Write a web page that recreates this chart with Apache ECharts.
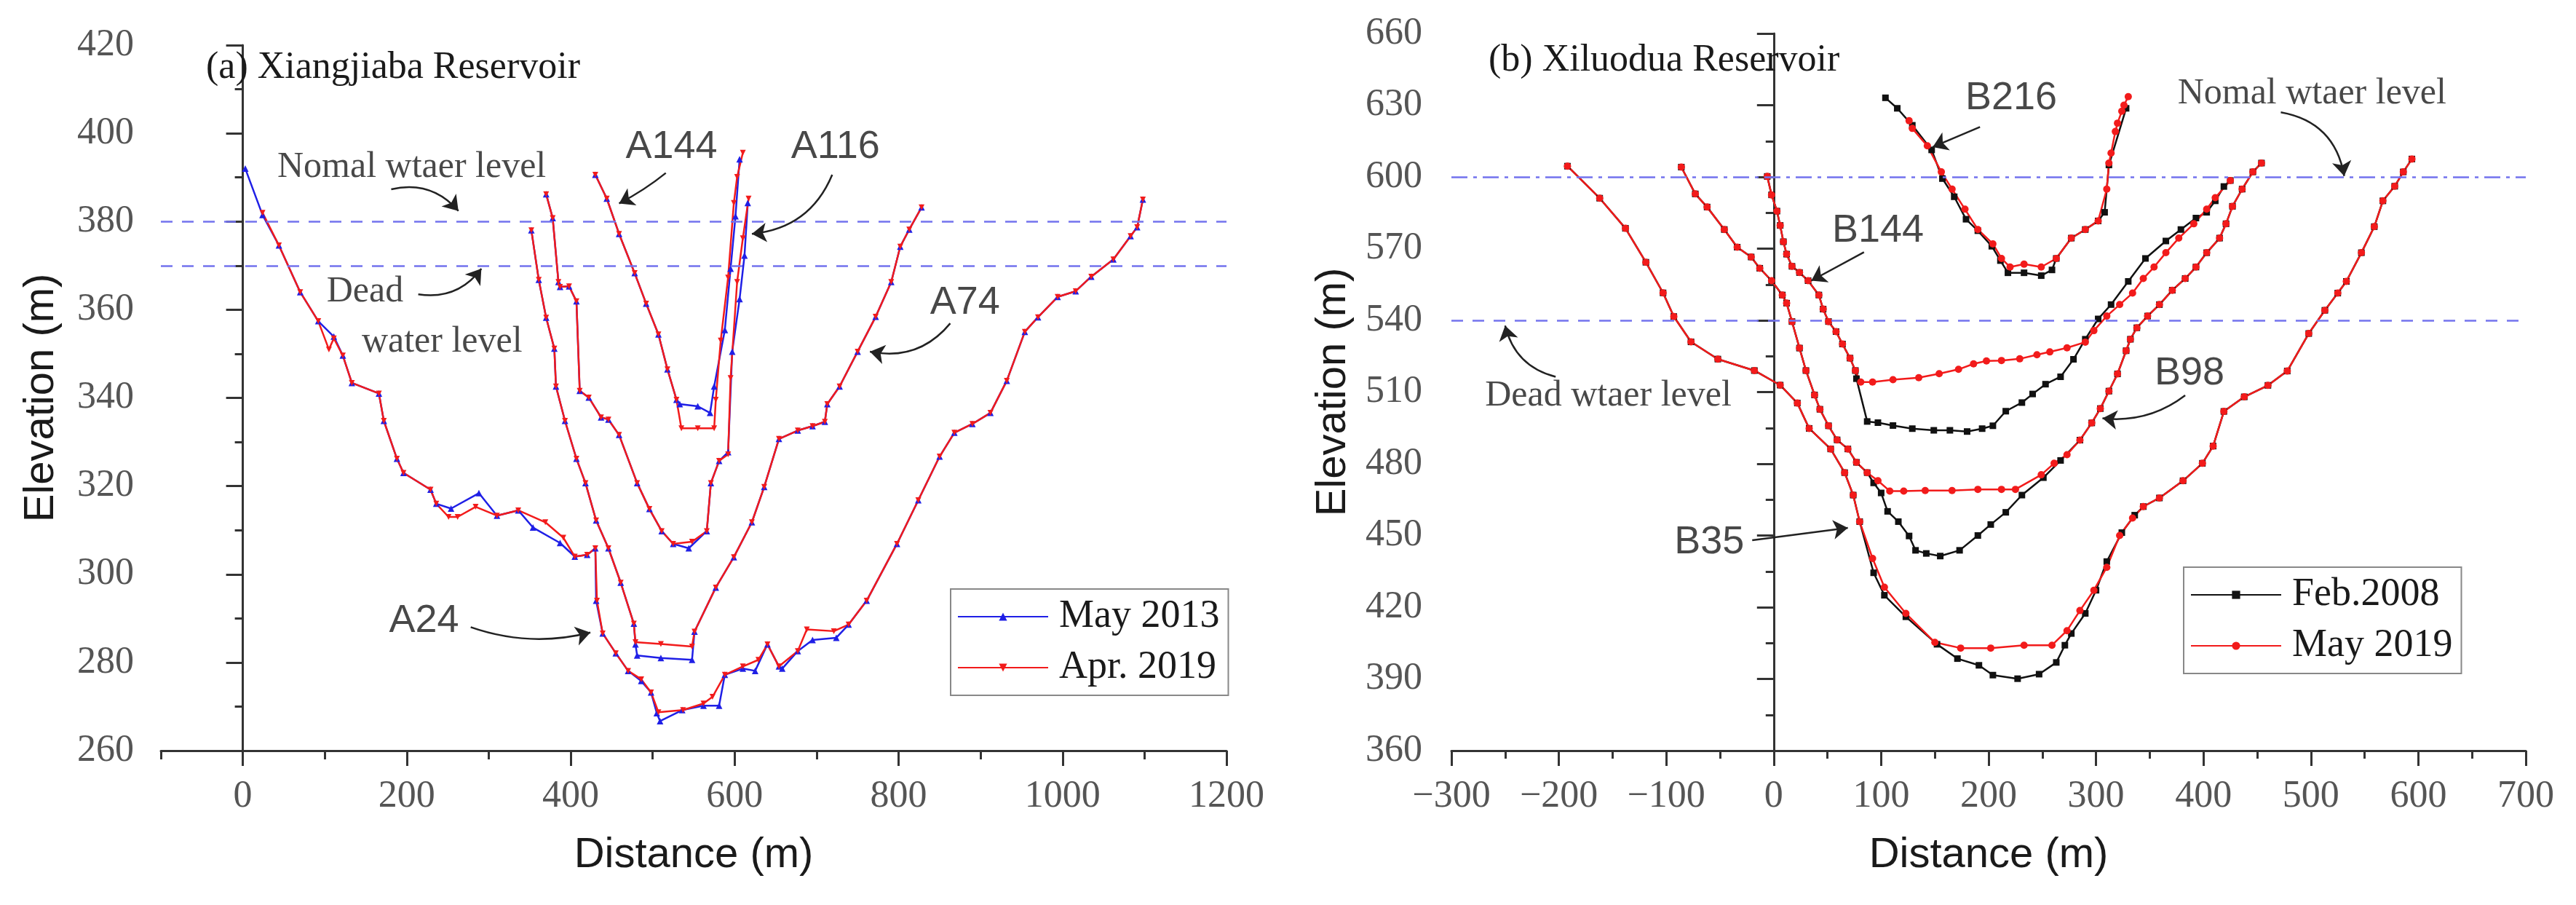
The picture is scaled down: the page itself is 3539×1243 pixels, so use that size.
<!DOCTYPE html>
<html lang="en" style="height: 100%">
<head>
<meta charset="utf-8">
<title>Reservoir cross-section profiles</title>
</head>
<body style="height: 100%; margin: 0; background: #fff">
<div id="container" style="height: 100%"></div>

<script type="text/javascript" src="https://cdn.jsdelivr.net/npm/echarts/dist/echarts.min.js"></script>

<script type="text/javascript">

// ---------- (a) Xiangjiaba Reservoir : [distance (m), elevation (m)] ----------
var a24May2013 = [
    [3, 392], [24, 381.5], [44, 374.6], [70, 364], [92, 357.4], [111, 353.9], [122, 349.6],
    [133, 343.4], [166, 341], [172, 334.8], [188, 326.2], [196, 323], [229, 319.2], [236, 316],
    [254, 314.9], [288, 318.4], [310, 313.3], [336, 314.5], [354, 310.6], [387, 307.1],
    [405, 304], [420, 304.4], [430, 305.9], [431, 294], [439, 286.6], [455, 282.1], [470, 278.1],
    [486, 275.8], [498, 273.2], [505, 268.5], [509, 266.7], [536, 269.2], [562, 270.2],
    [581, 270.2], [588, 277.2], [610, 278.6], [625, 278.1], [640, 284.1], [654, 279.1],
    [658, 278.6], [677, 282.6], [695, 285.1], [724, 285.6], [739, 288.6], [761, 294],
    [798, 306.9], [824, 316.8], [850, 326.7], [868, 332.1], [890, 334.1], [912, 336.6],
    [932, 343.9], [954, 355], [970, 358.3], [994, 362.9], [1016, 364.2], [1035, 367.5],
    [1062, 371.4], [1083, 376.7], [1091, 378.7], [1098, 385]
];
var a24Apr2019 = [
    [24, 382], [44, 374.6], [70, 364], [92, 357.4], [105, 351], [111, 353.5], [122, 349.6],
    [133, 343.4], [166, 341], [172, 334.8], [188, 326.2], [196, 323], [229, 319.2], [236, 316],
    [251, 313], [262, 313], [284, 315.3], [310, 313.3], [336, 314.5], [369, 311.8],
    [391, 308.3], [405, 304], [420, 304.4], [430, 305.9], [432, 294], [439, 286.6],
    [455, 282.1], [470, 278.1], [486, 276.2], [498, 273.2], [507, 268.7], [537, 269.2],
    [562, 270.7], [573, 272.2], [588, 277.2], [610, 279.1], [629, 280.6], [640, 284.1],
    [654, 279.1], [677, 282.6], [688, 287.5], [721, 287.1], [739, 288.6], [761, 294],
    [798, 306.9], [824, 316.8], [850, 326.7], [868, 332.1], [890, 334.1], [912, 336.6],
    [932, 343.9], [954, 355], [970, 358.3], [994, 362.9], [1016, 364.2], [1035, 367.5],
    [1062, 371.4], [1083, 376.7], [1091, 378.7], [1098, 385]
];
var a74May2013 = [
    [352, 378], [361, 366.8], [370, 358.2], [380, 351.2], [382, 342.6], [393, 334.8],
    [407, 326.2], [418, 320.7], [431, 312.2], [446, 305.9], [461, 298.1], [477, 288.8],
    [479, 284.1], [481, 281.6], [510, 281], [548, 280.6], [551, 287], [577, 297], [599, 303.9],
    [621, 311.8], [636, 319.8], [654, 330.7], [677, 332.6], [695, 333.6], [710, 334.6],
    [713, 338.6], [728, 342.6], [750, 350.5], [772, 358.4], [791, 366.3], [802, 374.3],
    [813, 378.2], [828, 383.2]
];
var a74Apr2019 = [
    [352, 378], [361, 366.8], [370, 358.2], [380, 351.2], [382, 342.6], [393, 334.8],
    [407, 326.2], [418, 320.7], [431, 312.2], [446, 305.9], [461, 298.1], [477, 288.8],
    [479, 284.6], [510, 284.2], [548, 283.6], [551, 287], [577, 297], [599, 303.9],
    [621, 311.8], [636, 319.8], [654, 330.7], [677, 332.6], [695, 333.6], [710, 334.6],
    [713, 338.6], [728, 342.6], [750, 350.5], [772, 358.4], [791, 366.3], [802, 374.3],
    [813, 378.2], [828, 383.2]
];
var a116May2013 = [
    [370, 386.2], [378, 380.8], [385, 366.3], [387, 365.2], [398, 365.3], [407, 361.9],
    [411, 341.6], [422, 340.1], [437, 335.6], [446, 335.1], [459, 331.6], [481, 320.7],
    [496, 314.8], [511, 309.8], [525, 306.9], [544, 305.9], [566, 309.8], [571, 320.7],
    [581, 325.7], [592, 327.7], [597, 350.5], [606, 362.4], [612, 372.3], [616, 384.2]
];
var a116Apr2019 = [
    [370, 386.2], [378, 380.8], [385, 366.3], [387, 365.2], [398, 365.3], [407, 361.9],
    [411, 341.6], [422, 340.1], [437, 335.6], [446, 335.1], [459, 331.6], [481, 320.7],
    [496, 314.8], [511, 309.8], [525, 306.9], [548, 307.4], [566, 309.8], [571, 320.7],
    [581, 325.7], [592, 327.2], [595, 344.5], [603, 366.3], [610, 376.2], [617, 385.2]
];
var a144May2013 = [
    [430, 390.6], [444, 385.2], [459, 377.2], [478, 368.3], [492, 361.4], [507, 354.4],
    [518, 346.5], [529, 339.6], [533, 338.6], [555, 338.1], [570, 336.6], [575, 342.6],
    [588, 355.4], [595, 369.3], [601, 381.2], [606, 394.1]
];
var a144Apr2019 = [
    [430, 390.6], [444, 385.2], [459, 377.2], [478, 368.3], [492, 361.4], [507, 354.4],
    [518, 346.5], [529, 339.6], [535, 333.1], [555, 333.1], [575, 333.1], [577, 339.6],
    [583, 353], [592, 367.3], [599, 384.2], [603, 390.1], [610, 395.6]
];

// ---------- (b) Xiluodua Reservoir : [distance (m), elevation (m)] ----------
var b35Feb2008 = [
    [-192, 604.5], [-162, 591.1], [-138, 578.5], [-119, 564.3], [-103, 551.5], [-93, 541.6],
    [-77, 531], [-52, 523.8], [-18, 519], [6, 512.9], [22, 505.4], [33, 494.8], [53, 486.2],
    [66, 476.3], [74, 466.9], [80, 455.8], [93, 434.4], [103, 425], [123, 416], [152, 404.5],
    [171, 398.5], [191, 395.7], [204, 391.6], [227, 390.1], [247, 392], [263, 396.9],
    [271, 404.1], [277, 409], [290, 417.4], [300, 427.1], [310, 439.1], [324, 451.2],
    [336, 458.5], [344, 462.1], [359, 465.7], [381, 472.9], [399, 480.2], [409, 487.4],
    [419, 501.9], [438, 508], [460, 512.8], [478, 518.8], [498, 534.5], [513, 544.2],
    [525, 551.4], [533, 556.3], [547, 568.3], [559, 579.2], [567, 590], [578, 596.1],
    [586, 602.1], [594, 607.5]
];
var b35May2019 = [
    [-192, 604.5], [-162, 591.1], [-138, 578.5], [-119, 564.3], [-103, 551.5], [-93, 541.6],
    [-77, 531], [-52, 523.8], [-18, 519], [6, 512.9], [22, 505.4], [33, 494.8], [53, 486.2],
    [66, 476.3], [74, 466.9], [80, 455.8], [92, 440.4], [103, 428.4], [123, 417.4],
    [150, 405.3], [174, 402.9], [202, 402.9], [233, 404.1], [259, 404.1], [273, 410.2],
    [285, 418.6], [298, 427.1], [310, 436.7], [322, 450], [334, 457.3], [344, 462.1],
    [359, 465.7], [381, 472.9], [399, 480.2], [409, 487.4], [419, 501.9], [438, 508],
    [460, 512.8], [478, 518.8], [498, 534.5], [513, 544.2], [525, 551.4], [533, 556.3],
    [547, 568.3], [559, 579.2], [567, 590], [578, 596.1], [586, 602.1], [594, 607.5]
];
var b98Feb2008 = [
    [-86, 604.1], [-73, 592.9], [-62, 587.4], [-46, 578], [-34, 570.6], [-21, 566.5],
    [-13, 561.8], [-2, 556.6], [8, 550.6], [12, 547.2], [17, 539.5], [24, 528.4], [30, 519],
    [38, 508.8], [43, 502.8], [51, 495.9], [59, 490], [69, 486.2], [77, 480.6], [87, 476.3],
    [93, 472], [100, 467.8], [106, 460.1], [116, 455.8], [126, 449.8], [132, 443.8],
    [142, 442.5], [155, 441.4], [173, 443.8], [190, 450], [202, 454.6], [216, 459.7],
    [231, 466.9], [251, 474.2], [267, 481.4], [285, 489.9], [296, 497.1], [304, 503.1],
    [312, 510.4], [320, 517.6], [328, 527.3], [332, 532.1], [338, 536.9], [348, 541.8],
    [359, 546.6], [371, 552.6], [383, 557.5], [393, 562.3], [403, 568.3], [415, 574.4],
    [421, 580.4], [427, 587.7], [436, 594.9], [446, 602.1], [454, 605.8]
];
var b98May2019 = [
    [-86, 604.1], [-73, 592.9], [-62, 587.4], [-46, 578], [-34, 570.6], [-21, 566.5],
    [-13, 561.8], [-2, 556.6], [8, 550.6], [12, 547.2], [17, 539.5], [24, 528.4], [30, 519],
    [38, 508.8], [43, 502.8], [51, 495.9], [59, 490], [69, 486.2], [77, 480.6], [87, 476.3],
    [97, 472.9], [108, 468.6], [121, 468.6], [141, 468.8], [166, 468.8], [190, 469.3],
    [212, 469.3], [225, 469.3], [249, 475.4], [261, 480.2], [273, 483.8], [285, 489.9],
    [296, 497.1], [304, 503.1], [312, 510.4], [320, 517.6], [328, 527.3], [332, 532.1],
    [338, 536.9], [348, 541.8], [359, 546.6], [371, 552.6], [383, 557.5], [393, 562.3],
    [403, 568.3], [415, 574.4], [421, 580.4], [427, 587.7], [436, 594.9], [446, 602.1],
    [454, 605.8]
];
var b144Feb2008 = [
    [-6, 600.2], [-2, 592.5], [3, 585.7], [6, 579.7], [9, 572.9], [12, 567.7], [17, 562.6],
    [24, 560], [32, 556.6], [42, 550.6], [46, 544.7], [51, 539.5], [58, 535.3], [64, 530.1],
    [71, 524.2], [76, 519], [77, 515.6], [87, 497.7], [97, 497.2], [111, 496], [129, 494.7],
    [149, 494], [164, 494], [180, 493.5], [194, 494.7], [204, 495.9], [216, 502], [231, 505.6],
    [241, 509.2], [253, 513.3], [267, 516.4], [279, 523.7], [290, 532.1], [302, 540.6],
    [314, 546.6], [330, 556.3], [346, 565.9], [365, 573.2], [379, 578], [393, 582.8],
    [403, 585.2], [411, 590], [419, 596], [425, 598.5]
];
var b144May2019 = [
    [-6, 600.2], [-2, 592.5], [3, 585.7], [6, 579.7], [9, 572.9], [12, 567.7], [17, 562.6],
    [24, 560], [32, 556.6], [42, 550.6], [46, 544.7], [51, 539.5], [58, 535.3], [64, 530.1],
    [71, 524.2], [76, 519], [81, 514.2], [92, 514.2], [111, 515.2], [135, 516], [154, 517.7],
    [172, 519.5], [186, 521.8], [198, 523], [212, 523.2], [229, 523.9], [245, 525.6],
    [257, 526.8], [273, 528.5], [290, 530.9], [298, 535.7], [310, 541.8], [322, 546.6],
    [334, 551.4], [344, 557.5], [354, 562.3], [365, 568.3], [377, 574.4], [391, 580.4],
    [403, 586.5], [411, 591.3], [425, 598.5]
];
var b216Feb2008 = [
    [104, 633.1], [115, 628.7], [129, 621.6], [147, 611.3], [157, 599.3], [168, 591.7],
    [179, 582.3], [190, 577.5], [203, 571], [211, 565], [218, 559.9], [233, 559.9],
    [249, 558.7], [259, 561.1], [263, 565.9], [277, 574.4], [290, 578], [302, 581.6],
    [308, 585.2], [312, 605], [328, 628.7]
];
var b216May2019 = [
    [126, 623.5], [129, 620.3], [143, 613], [156, 602.1], [166, 594.9], [178, 586.5],
    [190, 578], [204, 572], [212, 565.9], [220, 562.3], [233, 563.5], [249, 562.3],
    [263, 565.9], [277, 574.4], [290, 578], [302, 581.6], [310, 594.9], [312, 605.8],
    [314, 610], [318, 619], [320, 622.5], [324, 627.5], [326, 630], [330, 633.6]
];

// ---------- axes, reference levels, annotations ----------
var aDistMajor = [0, 200, 400, 600, 800, 1000, 1200];
var aDistMinor = [-100, 100, 300, 500, 700, 900, 1100];
var aLevels = [380, 370];           // normal / dead water level
var bNormalLevel = 600;
var bDeadLevel = 540;

// [text, distance, elevation]
var aSerifNotes = [['Nomal wtaer level', 206, 392.2], ['Dead', 149, 364.1], ['water level', 243, 352.7]];
var aSansNotes = [['A24', 221, 289.3], ['A144', 523, 396.8], ['A116', 723, 396.8], ['A74', 881, 361.6]];
var bSerifNotes = [['Nomal wtaer level', 501, 634.7], ['Dead wtaer level', -154, 508.3]];
var bSansNotes = [['B216', 221, 632.9], ['B144', 97, 577.5], ['B98', 387, 517.8], ['B35', -60, 447.1]];
// [x1, y1, x2, y2, curveness]
var aArrows = [
    [181, 387.3, 263, 382.4, 0.3], [214, 363.5, 291, 369.3, -0.3], [278, 288, 424, 286.8, -0.15],
    [516, 391, 459, 384.1, 0.05], [719, 390.6, 621, 377.2, 0.3], [863, 356.9, 765, 350.5, 0.3]
];
var bArrows = [
    [472, 627, 531, 600.4, 0.35], [-203, 516.4, -250, 537.8, 0.3], [84, 568.5, 35, 556.6, 0],
    [-20, 448, 69, 453.2, 0], [192, 620.9, 148, 612.5, 0], [383, 508.6, 306, 499, 0.2]
];

var serif = 'Liberation Serif';
var sans = 'Liberation Sans';
var axisColor = '#333';
var blue = '#1f1fe6';
var red = '#f21b1b';

var dom = document.getElementById('container');
var myChart = echarts.init(dom);

function plain(v) {
    return v < 0 ? '\u2212' + Math.abs(v) : String(v);
}

function valueAxis(grid, opts) {
    var ax = {
        gridIndex: grid,
        type: 'value',
        axisLine: {show: true, lineStyle: {color: axisColor, width: 3}},
        axisTick: {show: true, inside: false, length: 21, lineStyle: {color: axisColor, width: 3}},
        minorTick: {show: true, splitNumber: 2, length: 11, lineStyle: {color: axisColor, width: 3}},
        axisLabel: {margin: 37, fontFamily: serif, fontSize: 52, color: '#555', formatter: plain},
        splitLine: {show: false},
        nameLocation: 'middle',
        nameTextStyle: {fontFamily: sans, fontSize: 58, color: '#1a1a1a'}
    };
    return Object.assign(ax, opts);
}

function profile(name, data, xi, yi, color, symbol, size, rotate) {
    return {
        type: 'line',
        name: name,
        data: data,
        xAxisIndex: xi,
        yAxisIndex: yi,
        symbol: symbol,
        symbolSize: size,
        symbolRotate: rotate || 0,
        showSymbol: true,
        lineStyle: {color: color, width: 2.5},
        itemStyle: {color: color},
        z: 3
    };
}

function notes(list, xi, yi, font, markLine) {
    var s = {
        type: 'scatter',
        xAxisIndex: xi,
        yAxisIndex: yi,
        symbolSize: 1,
        silent: true,
        itemStyle: {color: 'rgba(0,0,0,0)'},
        label: {show: true, position: 'inside', formatter: '{b}', fontFamily: font,
            fontSize: font === serif ? 50 : 54, color: '#1a1a1a'},
        data: list.map(function (n) { return {name: n[0], value: [n[1], n[2]]}; }),
        z: 5
    };
    if (markLine) s.markLine = markLine;
    return s;
}

function arrows(list, xi, yi) {
    return {
        type: 'lines',
        coordinateSystem: 'cartesian2d',
        xAxisIndex: xi,
        yAxisIndex: yi,
        silent: true,
        symbol: ['none', 'arrow'],
        symbolSize: 20,
        lineStyle: {color: '#222', width: 2.5, opacity: 1},
        data: list.map(function (a) {
            return {coords: [[a[0], a[1]], [a[2], a[3]]], lineStyle: {curveness: a[4]}};
        }),
        z: 5
    };
}

var levelStyle = {color: '#7373ee', width: 2.5, type: [16, 13]};

var legendText = {fontFamily: serif, fontSize: 54, color: '#1a1a1a', lineHeight: 60, padding: [0, 0, 0, 10]};

var option = {
    animation: false,
    backgroundColor: '#fff',
    title: [
        {text: '(a) Xiangjiaba Reservoir', left: 278, top: 62,
            textStyle: {fontFamily: serif, fontSize: 52, fontWeight: 'normal', color: '#1a1a1a'}},
        {text: '(b) Xiluodua Reservoir', left: 2040, top: 52,
            textStyle: {fontFamily: serif, fontSize: 52, fontWeight: 'normal', color: '#1a1a1a'}}
    ],
    grid: [
        {left: 221, top: 62, width: 1464, height: 969},
        {left: 1994, top: 46, width: 1476, height: 985}
    ],
    legend: [
        {
            data: ['May 2013', 'Apr. 2019'], orient: 'vertical', left: 1306, top: 809,
            itemWidth: 124, itemHeight: 14, itemGap: 10, padding: [8, 12, 8, 9],
            borderColor: '#888', borderWidth: 2, textStyle: legendText
        },
        {
            data: ['Feb.2008', 'May 2019'], orient: 'vertical', left: 3000, top: 779,
            itemWidth: 124, itemHeight: 14, itemGap: 10, padding: [8, 12, 8, 9],
            borderColor: '#888', borderWidth: 2, textStyle: legendText
        }
    ],
    xAxis: [
        valueAxis(0, {
            min: -100, max: 1200,
            axisTick: {show: true, customValues: aDistMajor, length: 21, lineStyle: {color: axisColor, width: 3}},
            axisLabel: {customValues: aDistMajor, margin: 37, fontFamily: serif, fontSize: 52, color: '#555', formatter: plain},
            minorTick: {show: false},
            name: 'Distance (m)', nameGap: 115
        }),
        valueAxis(0, {
            min: -100, max: 1200, position: 'bottom',
            axisLine: {show: false},
            axisLabel: {show: false},
            axisTick: {show: true, customValues: aDistMinor, length: 12, lineStyle: {color: axisColor, width: 3}},
            minorTick: {show: false}
        }),
        valueAxis(1, {
            min: -300, max: 700, interval: 100,
            name: 'Distance (m)', nameGap: 115
        })
    ],
    yAxis: [
        valueAxis(0, {min: 260, max: 420, interval: 20, axisTick: {show: true, length: 23, lineStyle: {color: axisColor, width: 3}},
            name: 'Elevation (m)', nameGap: 135}),
        valueAxis(1, {min: 360, max: 660, interval: 30, axisTick: {show: true, length: 23, lineStyle: {color: axisColor, width: 3}},
            axisLabel: {margin: 40, fontFamily: serif, fontSize: 52, color: '#555', formatter: plain},
            name: 'Elevation (m)', nameGap: 133})
    ],
    series: [
        profile('May 2013', a24May2013, 0, 0, blue, 'triangle', 9),
        profile('May 2013', a74May2013, 0, 0, blue, 'triangle', 9),
        profile('May 2013', a116May2013, 0, 0, blue, 'triangle', 9),
        profile('May 2013', a144May2013, 0, 0, blue, 'triangle', 9),
        profile('Apr. 2019', a24Apr2019, 0, 0, red, 'triangle', 8, 180),
        profile('Apr. 2019', a74Apr2019, 0, 0, red, 'triangle', 8, 180),
        profile('Apr. 2019', a116Apr2019, 0, 0, red, 'triangle', 8, 180),
        profile('Apr. 2019', a144Apr2019, 0, 0, red, 'triangle', 8, 180),
        notes(aSerifNotes, 0, 0, serif, {
            silent: true, symbol: 'none', label: {show: false},
            lineStyle: levelStyle,
            data: aLevels.map(function (v) { return {yAxis: v}; })
        }),
        notes(aSansNotes, 0, 0, sans),
        arrows(aArrows, 0, 0),

        profile('Feb.2008', b35Feb2008, 2, 1, '#111', 'rect', 9),
        profile('Feb.2008', b98Feb2008, 2, 1, '#111', 'rect', 9),
        profile('Feb.2008', b144Feb2008, 2, 1, '#111', 'rect', 9),
        profile('Feb.2008', b216Feb2008, 2, 1, '#111', 'rect', 9),
        profile('May 2019', b35May2019, 2, 1, red, 'circle', 10),
        profile('May 2019', b98May2019, 2, 1, red, 'circle', 10),
        profile('May 2019', b144May2019, 2, 1, red, 'circle', 10),
        profile('May 2019', b216May2019, 2, 1, red, 'circle', 10),
        notes(bSerifNotes, 2, 1, serif, {
            silent: true, symbol: 'none', label: {show: false},
            data: [
                {yAxis: bNormalLevel, lineStyle: {color: '#7373ee', width: 2.5, type: [22, 8, 5, 8]}},
                {yAxis: bDeadLevel, lineStyle: levelStyle}
            ]
        }),
        notes(bSansNotes, 2, 1, sans),
        arrows(bArrows, 2, 1)
    ]
};

if (option && typeof option === 'object') {
    myChart.setOption(option);
}

window.addEventListener('resize', myChart.resize);
</script>
</body>
</html>
